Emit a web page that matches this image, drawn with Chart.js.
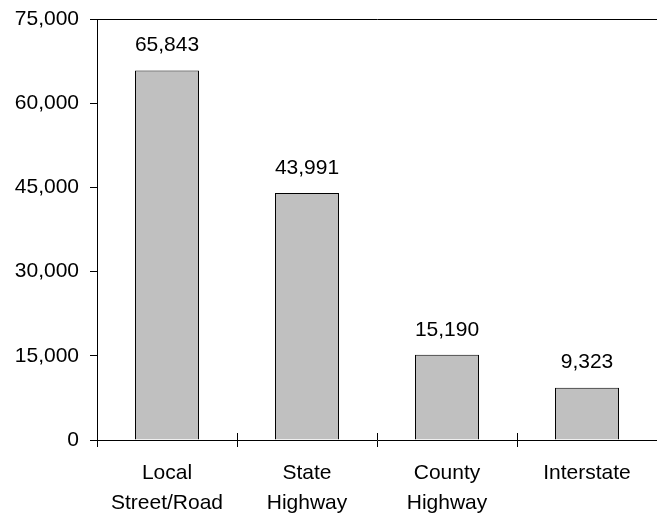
<!DOCTYPE html>
<html>
<head>
<meta charset="utf-8">
<script src="https://cdn.jsdelivr.net/npm/chart.js@4"></script>
<style>
  html, body { margin: 0; padding: 0; background: #fff; }
  #wrap { width: 657px; height: 514px; }
</style>
</head>
<body>
<div id="wrap"><canvas id="chart" width="657" height="514"></canvas></div>
<script>
// data
const categories = [['Local', 'Street/Road'], ['State', 'Highway'], ['County', 'Highway'], 'Interstate'];
const crashCounts = [65843, 43991, 15190, 9323];
const yTicks = [0, 15000, 30000, 45000, 60000, 75000];

const fontSpec = { family: '"Liberation Sans", Arial, sans-serif', size: 21 };

function fmt(v) {
    return v.toLocaleString('en-US');
}

// draws the value above each bar
const valueLabels = {
    id: 'valueLabels',
    afterDatasetsDraw(chart) {
        const ctx = chart.ctx;
        const meta = chart.getDatasetMeta(0);
        ctx.save();
        ctx.font = fontSpec.size + 'px ' + fontSpec.family;
        ctx.fillStyle = '#000';
        ctx.textAlign = 'center';
        ctx.textBaseline = 'middle';
        meta.data.forEach((bar, i) => {
            ctx.fillText(fmt(crashCounts[i]), bar.x, bar.y - 25);
        });
        ctx.restore();
    }
};

// x tick marks cross the axis line, draw the inner half
const innerTicks = {
    id: 'innerTicks',
    afterDraw(chart) {
        const ctx = chart.ctx;
        const xs = chart.scales.x;
        const bottom = chart.chartArea.bottom;
        ctx.save();
        ctx.strokeStyle = '#000';
        ctx.lineWidth = 1;
        for (let i = 0; i < categories.length - 1; i++) {
            const px = Math.round((xs.getPixelForValue(i) + xs.getPixelForValue(i + 1)) / 2) + 0.5;
            ctx.beginPath();
            ctx.moveTo(px, bottom - 7);
            ctx.lineTo(px, bottom);
            ctx.stroke();
        }
        ctx.restore();
    }
};

new Chart(document.getElementById('chart'), {
    type: 'bar',
    data: {
        labels: categories,
        datasets: [{
            data: crashCounts,
            backgroundColor: '#c0c0c0',
            borderColor: '#000',
            borderWidth: 1,
            categoryPercentage: 1,
            barPercentage: 0.457
        }]
    },
    options: {
        responsive: false,
        animation: false,
        layout: { padding: { top: 19, right: 0, left: 0, bottom: 0 } },
        plugins: {
            legend: { display: false },
            tooltip: { enabled: false }
        },
        scales: {
            x: {
                offset: true,
                grid: {
                    offset: true,
                    drawOnChartArea: false,
                    color: '#000',
                    tickLength: 7
                },
                border: { color: '#000', width: 1 },
                ticks: {
                    color: '#000',
                    font: { ...fontSpec, lineHeight: 1.4 },
                    padding: 12,
                    maxRotation: 0,
                    autoSkip: false
                },
                afterFit(scale) { scale.height = 74; }
            },
            y: {
                min: 0,
                max: 75000,
                afterBuildTicks(scale) {
                    scale.ticks = yTicks.map(v => ({ value: v }));
                },
                grid: {
                    color: c => (c.tick && c.tick.value === 75000) ? '#000' : 'transparent',
                    tickColor: '#000',
                    tickLength: 7
                },
                border: { color: '#000', width: 1 },
                ticks: {
                    color: '#000',
                    font: fontSpec,
                    padding: 11,
                    callback: v => fmt(v)
                },
                afterFit(scale) {
                    scale.width = 97;
                    scale.paddingTop = 0;
                    scale.paddingBottom = 0;
                }
            }
        }
    },
    plugins: [valueLabels, innerTicks]
});
</script>
</body>
</html>
